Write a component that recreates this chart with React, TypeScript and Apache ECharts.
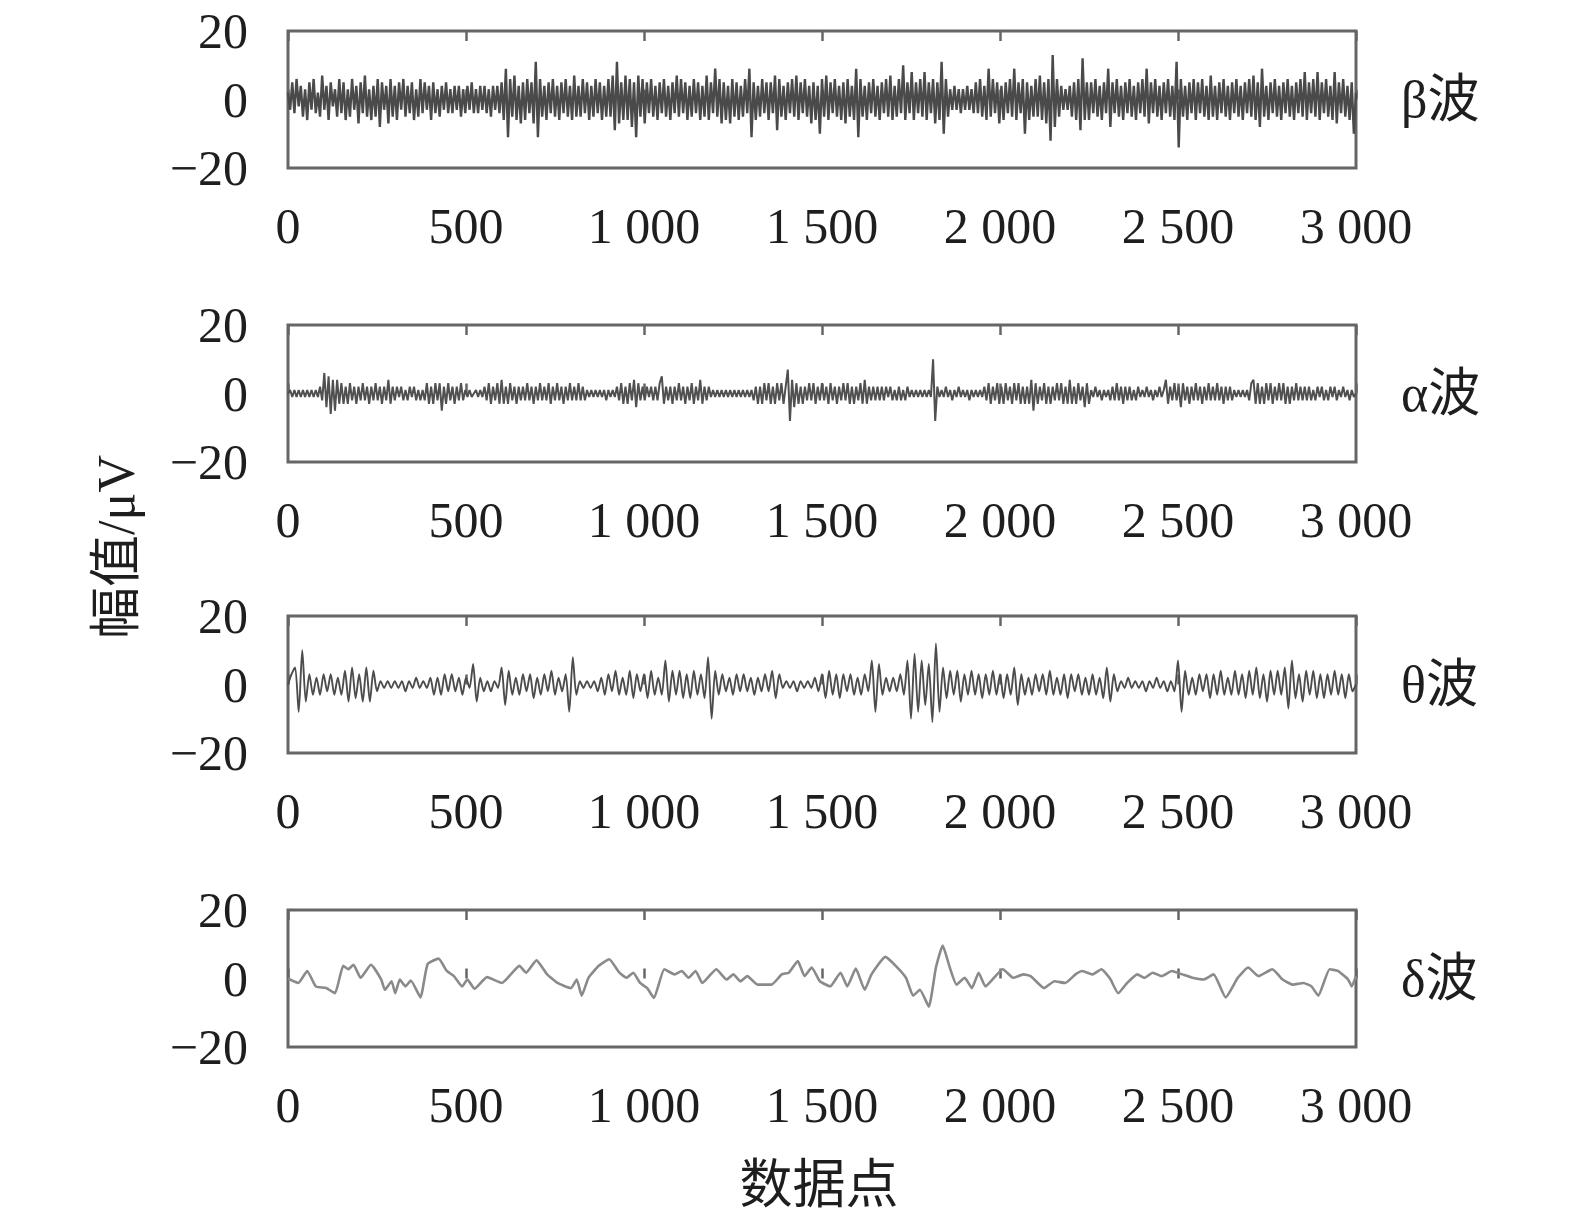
import React, { useEffect, useRef } from "react";
import * as echarts from "echarts";

// ---- data ----
const xTickValues = [0, 500, 1000, 1500, 2000, 2500, 3000];
const yRange = [-20, 20];
const waveNames = ["β波", "α波", "θ波", "δ波"];
const xAxisName = "数据点";
const yAxisName = "幅值/μV";

// β wave: sampled every 6 data points
const betaStep = 6;
const betaValues = [
  2,-3,5,-4,6,-2,4,-5,3,-6,5,-3,6,-4,2,-5,7,-3,4,-6,5,-2,3,-5,6,
  -4,5,-6,3,-5,6,-3,4,-7,5,-4,7,-5,3,-6,4,-5,6,-8,5,-3,4,-7,6,-5,
  4,-6,5,-3,6,-5,4,-4,5,-6,3,-5,6,-4,5,-3,4,-6,5,-4,3,-5,4,-3,5,
  -4,3,-4,4,-3,4,-5,3,-4,4,-3,5,-4,3,-4,4,-3,4,-4,3,-5,4,-3,4,-4,
  5,-6,9,-11,6,-5,7,-6,4,-7,5,-6,6,-4,5,-7,11,-11,6,-5,4,-6,5,-4,6,
  -5,4,-6,5,-4,6,-5,4,-6,7,-5,4,-5,6,-4,5,-6,4,-5,6,-4,5,-6,4,-5,
  6,-5,7,-9,11,-7,5,-6,7,-6,6,-8,5,-11,7,-5,6,-7,5,-4,6,-5,4,-6,5,
  -4,6,-5,4,-6,5,-4,7,-5,6,-4,5,-6,4,-5,6,-4,5,-6,4,-5,7,-6,5,-4,
  9,-5,6,-7,5,-6,4,-7,6,-5,5,-6,4,-5,6,-4,9,-11,5,-6,4,-5,6,-4,5,
  -6,5,-4,7,-9,6,-5,4,-6,5,-4,6,-5,7,-6,5,-4,6,-5,4,-7,5,-6,4,-10,
  6,-5,7,-6,5,-4,6,-5,4,-6,5,-7,6,-5,4,-6,9,-11,6,-5,4,-6,5,-4,6,
  -5,4,-6,5,-4,6,-5,7,-6,4,-5,6,-4,10,-6,5,-4,8,-6,5,-4,6,-5,8,-6,
  5,-4,6,-7,5,-6,11,-10,6,-5,3,-3,4,-3,3,-4,3,-3,4,-3,3,-4,5,-4,6,
  -5,4,-6,9,-5,6,-4,5,-7,4,-6,5,-4,6,-5,9,-6,5,-4,6,-10,5,-6,4,-5,
  6,-5,7,-6,5,-7,6,-12,13,-8,6,-5,4,-3,3,-3,4,-5,5,-6,6,-9,12,-6,5,
  -6,5,-4,6,-5,4,-6,5,-4,9,-8,5,-4,6,-5,4,-6,5,-4,6,-5,4,-6,5,-4,
  6,-5,9,-7,5,-4,6,-5,4,-6,5,-4,6,-5,4,-6,11,-14,6,-5,4,-6,5,-4,6,
  -6,5,-4,6,-5,4,-6,7,-5,4,-6,5,-4,6,-5,4,-6,5,-4,6,-5,4,-6,5,-4,
  6,-5,7,-6,5,-8,9,-5,4,-6,5,-4,6,-5,4,-6,5,-4,6,-5,4,-6,5,-4,6,
  -5,8,-6,5,-4,6,-5,8,-6,5,-4,6,-5,4,-6,8,-7,5,-4,6,-5,4,-6,5,-10,
  2,
];

// α wave: sampled every 6 data points
const alphaStep = 6;
const alphaValues = [
  0,1,-1,1,-1,1,-1,1,-1,1,-1,1,-1,1,-1,2,-2,6,-4,5,-6,4,-5,4,-3,
  3,-3,2,-3,3,-2,2,-3,2,-2,3,-2,2,-3,2,-2,3,-2,2,-3,2,-2,4,-3,2,
  -2,2,-1,2,-2,1,-2,2,-1,2,-2,1,-2,1,-2,3,-3,2,-3,3,-2,3,-5,2,-3,
  3,-2,2,-3,2,-2,3,-2,1,-1,1,-1,0,1,-1,1,-1,2,-2,3,-3,2,-2,3,-3,
  4,-3,2,-3,3,-2,2,-3,2,-2,2,-2,3,-2,2,-3,2,-2,3,-2,2,-2,3,-3,2,
  -2,3,-2,2,-3,2,-2,3,-2,2,-2,3,-2,2,-2,1,-1,1,-1,1,-1,1,-1,1,-2,
  1,-1,1,-1,2,-2,3,-3,2,-3,3,-2,4,-4,3,-2,2,-2,2,-1,2,-2,2,-2,3,
  5,-3,2,-2,2,-3,2,-2,3,-2,2,-3,2,-2,3,-3,2,-2,4,-3,2,-2,2,-1,1,
  -1,1,-1,1,-1,1,-1,1,-1,1,-1,1,-1,1,-1,1,-1,1,-2,2,-3,2,-3,3,-2,
  3,-3,2,-3,3,-2,3,-3,2,7,-8,4,-4,3,-3,2,-3,2,-2,3,-2,3,-3,2,-2,
  3,-2,2,-3,3,-2,2,-3,2,-2,3,-2,3,-3,2,-3,2,-2,3,-3,4,-3,2,-2,2,
  -2,2,-2,2,-2,2,-1,2,-2,1,-2,2,-2,1,-2,2,-1,1,-1,1,-1,1,-1,1,-1,
  1,-1,10,-8,2,-1,1,-1,2,-1,1,-2,1,-1,2,-1,1,-1,1,-2,1,-1,1,-1,1,
  -1,2,-2,3,-3,2,-2,3,-3,2,-3,3,-2,2,-3,3,-2,3,-3,2,-3,2,-3,4,-5,
  3,-3,2,-2,3,-3,2,-3,2,-2,3,-2,3,-3,2,-3,4,-3,2,-3,3,-2,2,-4,3,
  -3,1,-1,2,-1,1,-2,1,-1,1,-2,2,-2,3,-2,2,-3,2,-2,2,-2,1,-2,2,-1,
  1,-1,2,-1,1,-2,1,-1,2,-1,1,4,-3,2,-2,3,-2,2,-4,3,-2,2,-3,2,-2,
  3,-2,2,-3,2,-2,3,-2,2,-2,3,-2,2,-3,2,-2,2,-2,1,-1,1,-1,1,-1,1,
  -2,3,4,-3,3,-3,2,-3,3,-2,3,-3,2,-2,3,-2,3,-3,2,-3,2,-2,3,-2,2,
  -2,2,-2,2,-2,1,-2,2,-1,2,-2,1,-2,2,-1,2,-2,1,-1,2,-1,1,-2,1,-1,
  0,
];

// θ wave: sampled every 10 data points
const thetaStep = 10;
const thetaValues = [
  0,3,5,-8,10,-5,3,-3,2,-3,3,-2,3,-3,2,-3,4,-5,5,-4,3,-5,5,-5,4,-2,1,-1,1,-1,
  1,-1,1,-2,1,-1,2,-1,1,-1,2,-3,2,-3,3,-2,3,-2,2,-3,2,-1,6,-5,2,-2,1,-2,1,-1,
  5,-6,4,-3,2,-3,3,-2,3,-4,2,-3,3,-2,4,-3,2,-2,3,-8,8,-3,1,-1,1,-1,1,-2,2,-3,
  3,-2,4,-3,2,-3,4,-4,3,-2,3,-4,4,-3,2,-3,7,-5,4,-3,4,-4,3,-4,4,-3,3,-4,8,-10,
  4,-3,3,-2,2,-3,3,-2,3,-2,2,-3,2,-2,3,-2,4,-4,3,-1,1,-1,1,-2,1,-1,1,-1,2,-2,
  3,-4,4,-3,3,-4,3,-2,3,-3,2,-3,3,-2,7,-8,6,-3,2,-2,2,-2,3,-3,7,-10,9,-8,7,-6,
  6,-11,12,-8,5,-4,4,-3,4,-5,3,-3,4,-3,3,-4,3,-3,4,-3,3,-4,3,-3,5,-6,3,-3,2,-3,
  3,-2,3,-3,4,-3,2,-3,3,-4,3,-2,3,-3,2,-3,3,-3,2,-4,5,-5,3,-2,1,-1,2,-1,1,-1,
  1,-2,1,-1,2,-1,1,-2,1,-2,7,-8,4,-3,2,-3,3,-2,3,-4,3,-3,4,-3,2,-3,4,-3,3,-4,
  4,-3,5,-4,3,-5,4,-3,4,-3,5,-7,7,-4,3,-5,4,-3,4,-4,3,-4,3,-3,4,-3,3,-4,3,-2,
  0,
];

// δ wave: turning points
const deltaX = [
  0,29,54,78,107,132,155,169,184,204,233,262,272,291,301,314,330,345,372,392,
  423,446,466,489,504,524,559,601,650,669,698,728,757,795,811,825,844,873,902,931,
  951,970,989,1009,1028,1057,1086,1106,1125,1145,1164,1203,1232,1251,1271,1290,1319,1358,1387,1407,
  1432,1451,1471,1494,1523,1552,1571,1595,1620,1639,1678,1707,1736,1756,1775,1800,1820,1839,1859,1878,
  1901,1921,1940,1959,2008,2037,2066,2086,2124,2153,2183,2212,2231,2260,2285,2309,2332,2357,2386,2406,
  2429,2454,2483,2512,2541,2571,2600,2634,2668,2697,2726,2765,2794,2823,2852,2875,2894,2926,2949,2978,
  2988,3000,
];
const deltaY = [
  0,-1.3,2.2,-2.3,-2.8,-4.3,3.7,2.7,4,0.2,4,-0.3,-3.3,-0.8,-4.3,-0.3,-2.3,-0.6,-5.5,4.2,
  5.8,2.2,0.7,-2.3,-0.3,-3,0.4,-1.3,3.7,1.7,5.3,1.2,-1.3,-2.8,-0.3,-5,0.2,3.7,5.6,1.7,
  0.2,1.7,-1.3,-2.8,-5.7,2.7,1.2,2.2,0.2,2.2,-1.3,2.7,-0.3,1.2,-0.8,0.7,-1.8,-1.8,1.2,1.7,
  5.1,0.7,3.2,-0.8,-2.3,1.7,-2.3,2.9,-3.3,1.2,6.3,3.7,0.2,-5,-3.3,-8.2,3.2,9.6,3.2,-1.8,
  0.2,-2.8,1.7,-2.3,2.7,0.2,1.2,0.7,-2.8,-0.8,-1.3,1.2,2.2,1.2,2.7,0,-4.3,-1.3,1.2,0.2,
  1.7,0.7,2.2,1.2,0.2,-0.3,1.2,-5.5,0.2,3.2,0.7,2.7,-0.3,-1.8,-1.3,-2.3,-5,2.7,2.2,-0.3,
  -2.3,0.7,
];

// ---- layout / style ----
const FRAME = "#666666";
const TEXT = "#1e1e1e";
const SERIF = '"Liberation Serif", "Times New Roman", "Noto Sans CJK SC", serif';
const PANEL_TOPS = [31, 325, 616, 910];
const PANEL_LEFT = 288;
const PANEL_WIDTH = 1068;
const PANEL_HEIGHT = 137;
const LINE_STYLES = [
  { color: "#4a4a4a", width: 2.4 },
  { color: "#505050", width: 2 },
  { color: "#4c4c4c", width: 1.9 },
  { color: "#8a8a8a", width: 2.6 },
];

const fmtX = (v: number) =>
  v >= 1000 ? `${Math.floor(v / 1000)} ${String(v % 1000).padStart(3, "0")}` : String(v);
const fmtY = (v: number) => (v < 0 ? "\u2212" + String(-v) : String(v));

function buildOption() {
  const seriesData = [
    betaValues.map((v, i) => [i * betaStep, v]),
    alphaValues.map((v, i) => [i * alphaStep, v]),
    thetaValues.map((v, i) => [i * thetaStep, v]),
    deltaX.map((x, i) => [x, deltaY[i]]),
  ];
  const xInterval = xTickValues[1] - xTickValues[0];
  const grid: any[] = [];
  const xAxis: any[] = [];
  const yAxis: any[] = [];
  const series: any[] = [];
  const graphic: any[] = [];
  PANEL_TOPS.forEach((top, i) => {
    grid.push({
      left: PANEL_LEFT,
      top,
      width: PANEL_WIDTH,
      height: PANEL_HEIGHT,
      show: true,
      borderColor: FRAME,
      borderWidth: 3,
      backgroundColor: "transparent",
    });
    const base = {
      gridIndex: i,
      type: "value",
      min: xTickValues[0],
      max: xTickValues[xTickValues.length - 1],
      interval: xInterval,
      axisLine: { show: false },
      splitLine: { show: false },
      axisTick: { show: true, inside: true, length: 10, lineStyle: { color: FRAME, width: 2.5 } },
    };
    xAxis.push({
      ...base,
      position: "bottom",
      axisLabel: {
        show: true,
        margin: 33,
        fontSize: 50,
        fontFamily: SERIF,
        color: TEXT,
        showMinLabel: true,
        showMaxLabel: true,
        formatter: fmtX,
      },
    });
    xAxis.push({ ...base, position: "top", axisLabel: { show: false } });
    yAxis.push({
      gridIndex: i,
      type: "value",
      min: yRange[0],
      max: yRange[1],
      interval: 20,
      axisLine: { show: false },
      axisTick: { show: false },
      splitLine: { show: false },
      axisLabel: { margin: 40, fontSize: 50, fontFamily: SERIF, color: TEXT, formatter: fmtY },
    });
    series.push({
      type: "line",
      xAxisIndex: i * 2,
      yAxisIndex: i,
      data: seriesData[i],
      showSymbol: false,
      symbol: "none",
      smooth: i === 2 ? 0.25 : i === 3 ? 0.15 : false,
      lineStyle: LINE_STYLES[i],
      silent: true,
    });
    graphic.push({
      type: "text",
      x: 1401,
      y: top + PANEL_HEIGHT / 2,
      style: {
        text: waveNames[i],
        fontSize: 52,
        fontFamily: SERIF,
        fill: TEXT,
        align: "left",
        verticalAlign: "middle",
      },
    });
  });
  graphic.push({
    type: "text",
    x: 116,
    y: 547,
    rotation: Math.PI / 2,
    style: {
      text: yAxisName,
      fontSize: 52,
      fontFamily: SERIF,
      fill: TEXT,
      align: "center",
      verticalAlign: "middle",
    },
  });
  graphic.push({
    type: "text",
    x: 819,
    y: 1185,
    style: {
      text: xAxisName,
      fontSize: 53,
      fontFamily: SERIF,
      fill: TEXT,
      align: "center",
      verticalAlign: "middle",
    },
  });
  return {
    animation: false,
    backgroundColor: "#ffffff",
    grid,
    xAxis,
    yAxis,
    series,
    graphic,
  };
}

export default function App() {
  const ref = useRef<HTMLDivElement>(null);
  useEffect(() => {
    if (!ref.current) return;
    const chart = echarts.init(ref.current, null, { renderer: "svg" });
    chart.setOption(buildOption() as any);
    return () => chart.dispose();
  }, []);
  return (
    <div
      ref={ref}
      style={{ position: "absolute", left: 0, top: 0, width: 1575, height: 1220, background: "#fff" }}
    />
  );
}
